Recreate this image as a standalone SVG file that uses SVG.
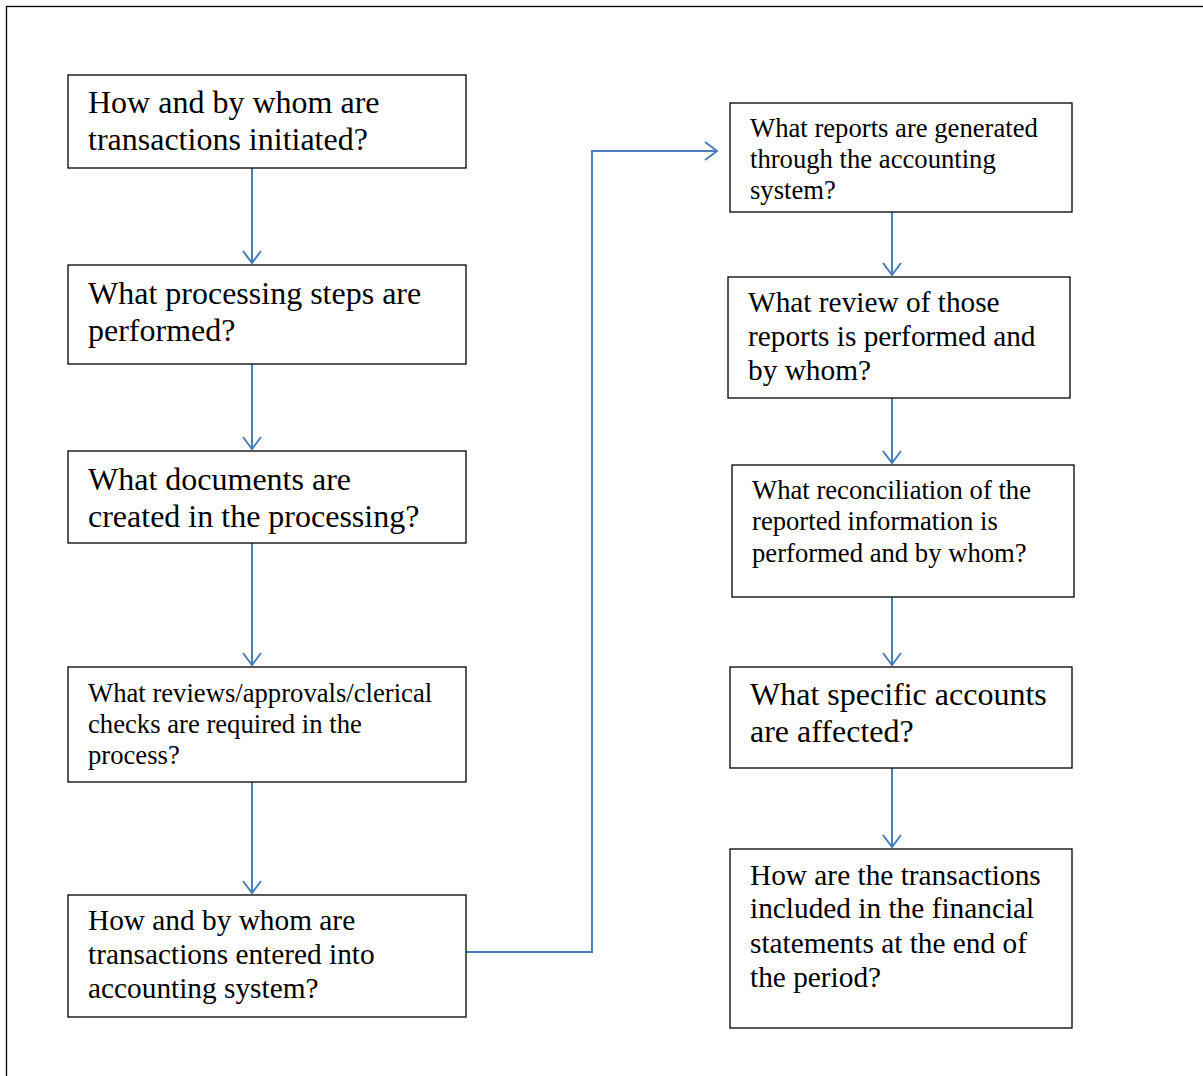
<svg xmlns="http://www.w3.org/2000/svg" width="1203" height="1076" viewBox="0 0 1203 1076">
<defs>
<style>
.box{fill:#fff;stroke:#000;stroke-width:1.3}
.t{font-family:"Liberation Serif","Times New Roman",serif;fill:#000}
.f28{font-size:32px}
.f25{font-size:29.33px}
.f23{font-size:26.67px}
.c{fill:none;stroke:#4a7ebb;stroke-width:2}
</style>
<marker id="ah" viewBox="0 0 14 20" refX="13" refY="10" markerWidth="14" markerHeight="20" markerUnits="userSpaceOnUse" orient="auto">
<path d="M1,1 L13,10 L1,19" fill="none" stroke="#4a7ebb" stroke-width="2"/>
</marker>
</defs>
<rect x="0" y="0" width="1203" height="1076" fill="#fff"/>
<rect x="6.5" y="6.5" width="1210" height="1090" fill="none" stroke="#000" stroke-width="1.3"/>
<g id="connectors">
<line class="c" x1="252" y1="168" x2="252" y2="263" marker-end="url(#ah)"/>
<line class="c" x1="252" y1="364" x2="252" y2="449" marker-end="url(#ah)"/>
<line class="c" x1="252" y1="543" x2="252" y2="665" marker-end="url(#ah)"/>
<line class="c" x1="252" y1="782" x2="252" y2="893" marker-end="url(#ah)"/>
<polyline class="c" points="466,952 592,952 592,151 717,151" marker-end="url(#ah)"/>
<line class="c" x1="892" y1="212" x2="892" y2="275" marker-end="url(#ah)"/>
<line class="c" x1="892" y1="398" x2="892" y2="463" marker-end="url(#ah)"/>
<line class="c" x1="892" y1="597" x2="892" y2="665" marker-end="url(#ah)"/>
<line class="c" x1="892" y1="768" x2="892" y2="847" marker-end="url(#ah)"/>
</g>
<g id="n1"><rect class="box" x="68" y="75" width="398" height="93"/>
<text class="t f28"><tspan x="88" y="113">How and by whom are</tspan><tspan x="88" y="150">transactions initiated?</tspan></text></g>
<g id="n2"><rect class="box" x="68" y="265" width="398" height="99"/>
<text class="t f28"><tspan x="88" y="304">What processing steps are</tspan><tspan x="88" y="341">performed?</tspan></text></g>
<g id="n3"><rect class="box" x="68" y="451" width="398" height="92"/>
<text class="t f28"><tspan x="88" y="490">What documents are</tspan><tspan x="88" y="527">created in the processing?</tspan></text></g>
<g id="n4"><rect class="box" x="68" y="667" width="398" height="115"/>
<text class="t f23"><tspan x="88" y="702">What reviews/approvals/clerical</tspan><tspan x="88" y="733">checks are required in the</tspan><tspan x="88" y="764">process?</tspan></text></g>
<g id="n5"><rect class="box" x="68" y="895" width="398" height="122"/>
<text class="t f25"><tspan x="88" y="930">How and by whom are</tspan><tspan x="88" y="964">transactions entered into</tspan><tspan x="88" y="998">accounting system?</tspan></text></g>
<g id="n6"><rect class="box" x="730" y="103" width="342" height="109"/>
<text class="t f23"><tspan x="750" y="137">What reports are generated</tspan><tspan x="750" y="168">through the accounting</tspan><tspan x="750" y="199">system?</tspan></text></g>
<g id="n7"><rect class="box" x="728" y="277" width="342" height="121"/>
<text class="t f25"><tspan x="748" y="312">What review of those</tspan><tspan x="748" y="346">reports is performed and</tspan><tspan x="748" y="380">by whom?</tspan></text></g>
<g id="n8"><rect class="box" x="732" y="465" width="342" height="132"/>
<text class="t f23"><tspan x="752" y="499">What reconciliation of the</tspan><tspan x="752" y="530">reported information is</tspan><tspan x="752" y="562">performed and by whom?</tspan></text></g>
<g id="n9"><rect class="box" x="730" y="667" width="342" height="101"/>
<text class="t f28"><tspan x="750" y="705">What specific accounts</tspan><tspan x="750" y="742">are affected?</tspan></text></g>
<g id="n10"><rect class="box" x="730" y="849" width="342" height="179"/>
<text class="t f25"><tspan x="750" y="885">How are the transactions</tspan><tspan x="750" y="918">included in the financial</tspan><tspan x="750" y="953">statements at the end of</tspan><tspan x="750" y="987">the period?</tspan></text></g>
</svg>
